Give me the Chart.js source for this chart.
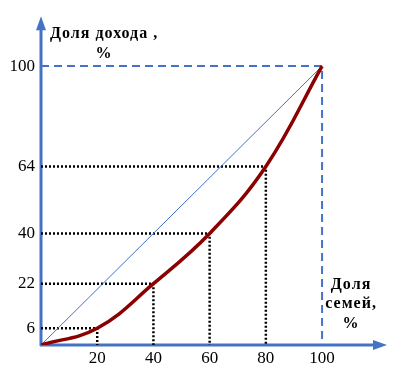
<!DOCTYPE html>
<html>
<head>
<meta charset="utf-8">
<script src="https://cdn.jsdelivr.net/npm/chart.js@4"></script>
<style>
  html, body { margin: 0; padding: 0; background: #fff; }
  #wrap { width: 406px; height: 371px; }
</style>
</head>
<body>
<div id="wrap"><canvas id="lorenz"></canvas></div>
<script>
// share of families (cumulative), %
var familyShare = [0, 20, 40, 60, 80, 100];
// share of income (cumulative), %
var incomeShare = [0, 6, 22, 40, 64, 100];
var xTicks = [20, 40, 60, 80, 100];
var yTicks = [6, 22, 40, 64, 100];

var axisBlue = '#4472C4';
var serif = '"Liberation Serif", "Times New Roman", serif';

var curve = familyShare.map(function (f, i) { return { x: f, y: incomeShare[i] }; });

// guide lines from each inner point to both axes
var guides = [];
for (var i = 1; i < familyShare.length - 1; i++) {
  guides.push({
    data: [{ x: 0, y: incomeShare[i] }, { x: familyShare[i], y: incomeShare[i] }, { x: familyShare[i], y: 0 }],
    borderColor: '#000', borderWidth: 2.5, borderDash: [2, 2], pointRadius: 0, showLine: true, tension: 0
  });
}

var last = familyShare.length - 1;
var frame = {
  data: [{ x: 0, y: incomeShare[last] }, { x: familyShare[last], y: incomeShare[last] }, { x: familyShare[last], y: 0 }],
  borderColor: axisBlue, borderWidth: 2, borderDash: [8, 5], pointRadius: 0, showLine: true, tension: 0
};

var equality = {
  data: [{ x: 0, y: 0 }, { x: 100, y: 100 }],
  borderColor: axisBlue, borderWidth: 1, pointRadius: 0, showLine: true, tension: 0
};

var lorenzLine = {
  data: curve,
  borderColor: '#8B0000', borderWidth: 3.5, pointRadius: 0, showLine: true,
  tension: 0.4
};

// axes with arrows and the axis captions
var axesPlugin = {
  id: 'axesArrows',
  beforeDatasetsDraw: function (chart) {
    var c = chart.ctx, xs = chart.scales.x, ys = chart.scales.y;
    var x0 = xs.getPixelForValue(0), y0 = ys.getPixelForValue(0);
    var area = chart.chartArea;
    c.save();
    c.strokeStyle = axisBlue;
    c.fillStyle = axisBlue;
    c.lineWidth = 3;
    c.beginPath();
    c.moveTo(x0, y0 + 1);
    c.lineTo(x0, area.top + 8);
    c.moveTo(x0 - 1, y0);
    c.lineTo(area.right - 8, y0);
    c.stroke();
    // arrow heads
    c.beginPath();
    c.moveTo(x0, area.top);
    c.lineTo(x0 - 5, area.top + 14);
    c.lineTo(x0 + 5, area.top + 14);
    c.closePath();
    c.fill();
    c.beginPath();
    c.moveTo(area.right, y0);
    c.lineTo(area.right - 14, y0 - 5);
    c.lineTo(area.right - 14, y0 + 5);
    c.closePath();
    c.fill();
    c.restore();
  },
  afterDraw: function (chart) {
    var c = chart.ctx, xs = chart.scales.x;
    c.save();
    c.fillStyle = '#000';
    c.font = 'bold 16px ' + serif;
    c.letterSpacing = '1px';
    c.textAlign = 'left';
    c.textBaseline = 'alphabetic';
    c.fillText('Доля дохода ,', xs.getPixelForValue(0) + 9, 38);
    c.textAlign = 'center';
    c.fillText('%', xs.getPixelForValue(0) + 63, 58);
    var cx = xs.getPixelForValue(100) + 29;
    c.fillText('Доля', cx, 289);
    c.fillText('семей,', cx, 308);
    c.fillText('%', cx, 328);
    c.restore();
  }
};

new Chart(document.getElementById('lorenz'), {
  type: 'scatter',
  data: { datasets: [lorenzLine, equality, frame].concat(guides) },
  options: {
    responsive: true,
    maintainAspectRatio: false,
    animation: false,
    layout: { padding: { left: 0, top: 15, right: 19, bottom: 0 } },
    plugins: { legend: { display: false }, tooltip: { enabled: false } },
    scales: {
      x: {
        type: 'linear', min: 0, max: 123.1,
        grid: { display: false, drawTicks: false },
        border: { display: false },
        afterBuildTicks: function (s) { s.ticks = xTicks.map(function (v) { return { value: v }; }); },
        afterFit: function (s) { s.height = 26; },
        ticks: { color: '#000', padding: 3, maxRotation: 0, autoSkip: false, font: { family: serif, size: 17 } }
      },
      y: {
        type: 'linear', min: 0, max: 117.9,
        grid: { display: false, drawTicks: false },
        border: { display: false },
        afterBuildTicks: function (s) { s.ticks = yTicks.map(function (v) { return { value: v }; }); },
        afterFit: function (s) { s.width = 41; },
        ticks: { color: '#000', padding: 6, autoSkip: false, font: { family: serif, size: 17 } }
      }
    }
  },
  plugins: [axesPlugin]
});
</script>
</body>
</html>
